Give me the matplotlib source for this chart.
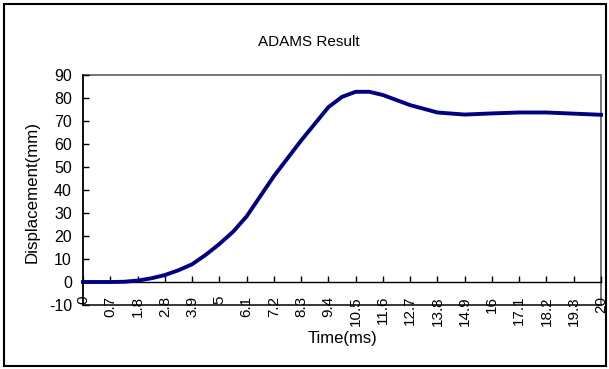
import matplotlib
matplotlib.use("Agg")
import matplotlib.pyplot as plt
from matplotlib.patches import Rectangle
from matplotlib.lines import Line2D

plt.rcParams['font.family'] = ['Liberation Sans', 'DejaVu Sans']
plt.rcParams['axes.unicode_minus'] = False

# Category tick labels (time, ms)
time_labels = ["0", "0.7", "1.8", "2.8", "3.9", "5", "6.1", "7.2", "8.3", "9.4",
               "10.5", "11.6", "12.7", "13.8", "14.9", "16", "17.1", "18.2", "19.3", "20"]
# Sample positions (in category-index units) and displacement values (mm)
sample_pos = [0, 1, 1.5, 2, 2.5, 3, 3.5, 4, 4.5, 5, 5.5, 6, 7, 8, 9, 9.5, 10, 10.5,
              11, 12, 13, 14, 15, 16, 17, 18, 19]
displacement = [0, 0, 0.1, 0.6, 1.6, 3.0, 5.1, 7.7, 11.8, 16.5, 21.8, 28.5, 46.0, 61.5,
                 76.0, 80.5, 82.7, 82.7, 81.3, 76.9, 73.7, 72.8, 73.3, 73.7, 73.7, 73.2, 72.7]

W, H = 609, 369
fig = plt.figure(figsize=(W / 100, H / 100), dpi=100)
ax = fig.add_axes([83 / W, 1 - 305 / H, 518 / W, 230 / H])

ax.plot(sample_pos, displacement, color='#000080', lw=2.8, solid_joinstyle='round',
        zorder=5, clip_on=False)

ax.set_xlim(0, len(time_labels) - 1)
ax.set_ylim(-10, 90)
ax.set_yticks(range(-10, 91, 10))
ax.set_xticks(range(len(time_labels)))
ax.set_xticklabels(time_labels)

for s in ['top', 'right']:
    ax.spines[s].set_visible(False)
ax.spines['bottom'].set_position(('data', 0))
ax.spines['bottom'].set_color('black')
ax.spines['bottom'].set_linewidth(1.0)
ax.spines['left'].set_color('black')
ax.spines['left'].set_linewidth(1.2)

# plot-area frame
ax.add_patch(Rectangle((0, 0), 1, 1, transform=ax.transAxes, fill=False,
                       edgecolor='#6a6a6a', lw=1.3, zorder=0, clip_on=False))
ax.add_line(Line2D([0, 1], [0, 0], transform=ax.transAxes, color='#303030', lw=1.2,
                   clip_on=False, zorder=1))

ax.tick_params(axis='x', direction='in', length=4, width=1, pad=10, labelsize=11,
               labelrotation=90)
ax.tick_params(axis='y', direction='in', length=4, width=1, pad=8, labelsize=11.5)
for lab in ax.get_xticklabels():
    lab.set_va('top')
    lab.set_ha('center')

fig.text(309 / W, 1 - 42 / H, "ADAMS Result", ha='center', va='center', fontsize=11)
fig.text(342 / W, 1 - 339 / H, "Time(ms)", ha='center', va='center', fontsize=12)
fig.text(32 / W, 1 - 192 / H, "Displacement(mm)", ha='center', va='center',
         rotation=90, fontsize=12.2)

# outer figure border
fig.patches.append(Rectangle((4 / W, 3 / H), 602 / W, 362 / H, transform=fig.transFigure,
                             fill=False, edgecolor='black', lw=1.5))

fig.savefig("out.png", dpi=100)
